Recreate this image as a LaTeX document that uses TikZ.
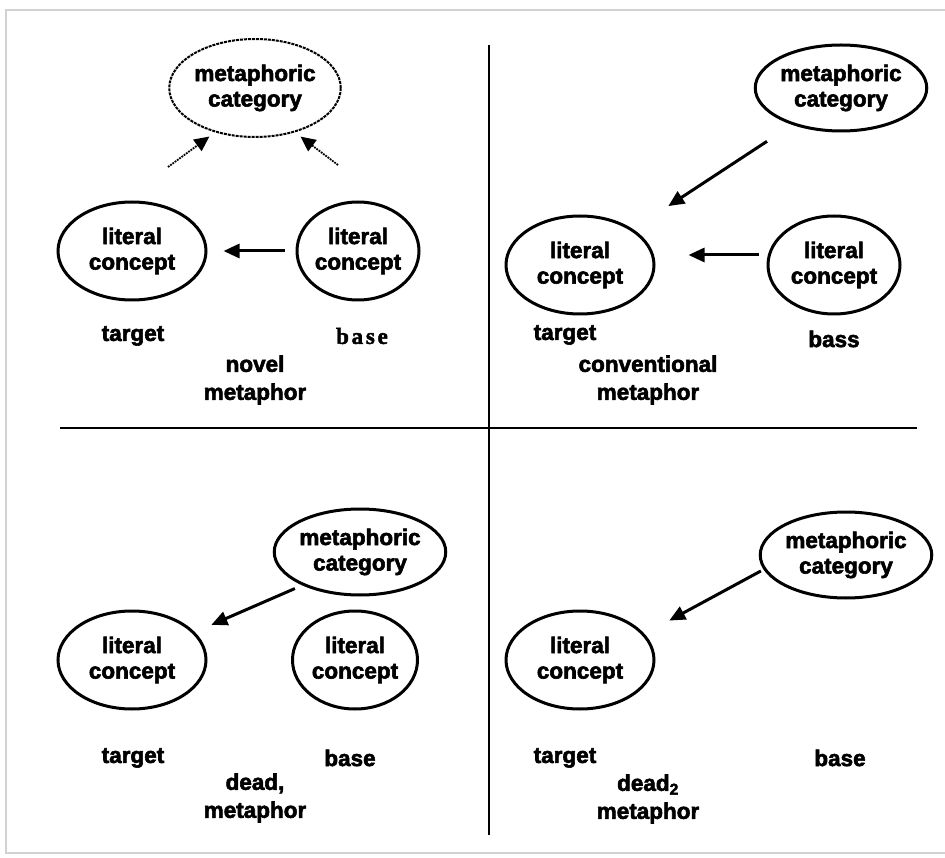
\documentclass[tikz,border=0pt]{standalone}
\usepackage{fontspec}
\setmainfont{Liberation Sans}[BoldFeatures={FakeBold=2.5}]
\newfontfamily\basefont{Liberation Serif}[LetterSpace=12,BoldFont={Liberation Serif Bold},BoldFeatures={FakeBold=2}]
\usepackage{tikz}
\usetikzlibrary{arrows.meta,positioning,shapes.geometric}

\begin{document}
\begin{tikzpicture}[x=1pt,y=-1pt,
    every node/.style={font=\fontsize{22.5}{25.5}\selectfont\bfseries,align=center,inner sep=0pt},
    concept/.style={ellipse,draw,line width=3pt,minimum width=148pt,minimum height=98pt},
    category/.style={concept,minimum height=86pt},
    dotcat/.style={concept,densely dotted,line width=2pt},
    link/.style={line width=3pt,-{Triangle[length=16pt,width=14pt]}},
    dotlink/.style={line width=1.8pt,densely dotted,-{Triangle[length=15pt,width=14pt]}},
    label/.style={font=\fontsize{22.5}{28}\selectfont\bfseries}]
  \useasboundingbox (0,0) rectangle (945,858);
  \fill[white] (0,0) rectangle (945,858);
  % frame of the page
  \draw[gray!35,line width=2pt] (952,10) -- (6,10) -- (6,853) -- (952,853);
  % quadrants
  \coordinate (vtop) at (489,45);
  \coordinate (vbot) at (489,835);
  \coordinate (hleft) at (60,428);
  \coordinate (hright) at (917,428);
  \draw[line width=2.8pt] (vtop) -- (vbot);
  \draw[line width=1.8pt] (hleft) -- (hright);

  % novel metaphor
  \node[dotcat] (nv-cat) at (255,88) {metaphoric\\category};
  \node[concept] (nv-tgt) at (132,251) {literal\\concept};
  \node[concept,minimum width=120pt] (nv-base) at (358,251) {literal\\concept};
  \coordinate (nv-t1) at (168,167);
  \coordinate (nv-t2) at (338,165);
  \draw[dotlink,shorten >=7pt] (nv-t1) -- (nv-cat.228);
  \draw[dotlink,shorten >=7pt] (nv-t2) -- (nv-cat.-48);
  \draw[link,shorten <=11pt,shorten >=16pt] (nv-base) -- (nv-tgt);
  \node[label] (nv-tl) at (133,336) {target};
  \node[label] (nv-bl) at (362,336) {\basefont\bfseries\fontsize{23}{26}\selectfont base};
  \node[label] (nv-name) at (255,380) {novel\\metaphor};

  % conventional metaphor
  \node[category] (cv-cat) at (841,88) {metaphoric\\category};
  \node[concept] (cv-tgt) at (580,265) {literal\\concept};
  \node[concept,minimum width=132pt] (cv-base) at (834,265) {literal\\concept};
  \draw[link,shorten <=30pt,shorten >=42pt] (cv-cat.217) -- (cv-tgt.34);
  \draw[link,shorten <=8pt,shorten >=33pt] ([yshift=10pt]cv-base.west) -- ([yshift=10pt]cv-tgt.east);
  \node[label] (cv-tl) at (565,335) {target};
  \node[label] (cv-bl) at (834,339) {bass};
  \node[label] (cv-name) at (648,380) {conventional\\metaphor};

  % dead metaphor
  \node[category,minimum width=128pt] (d1-cat) at (360,552) {metaphoric\\category};
  \node[concept] (d1-tgt) at (132,660) {literal\\concept};
  \node[concept,minimum width=125pt] (d1-base) at (355,660) {literal\\concept};
  \draw[link,shorten <=8pt,shorten >=18pt] (d1-cat.210) -- (d1-tgt.24);
  \node[label] (d1-tl) at (133,758) {target};
  \node[label] (d1-bl) at (350,758) {base};
  \node[label] (d1-name) at (255,798) {dead,\\metaphor};

  % dead_2 metaphor
  \node[category] (d2-cat) at (846,555) {metaphoric\\category};
  \node[concept] (d2-tgt) at (580,660) {literal\\concept};
  \draw[link,shorten <=3pt,shorten >=28pt] (d2-cat.190) -- (d2-tgt.22);
  \node[label] (d2-tl) at (565,758) {target};
  \node[label] (d2-bl) at (840,758) {base};
  \node[label] (d2-name) at (648,799) {dead\textsubscript{2}\\metaphor};
\end{tikzpicture}
\end{document}
